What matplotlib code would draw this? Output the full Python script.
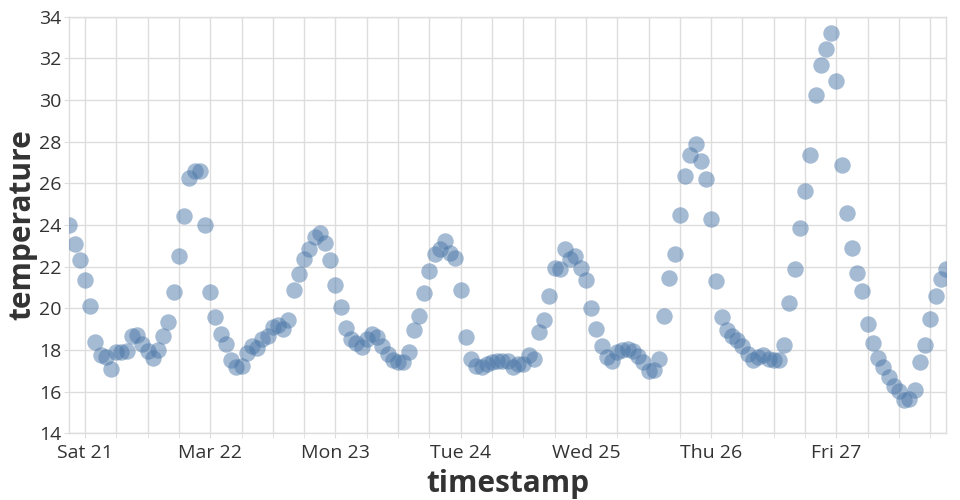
import matplotlib
matplotlib.use("Agg")
import matplotlib.pyplot as plt
import matplotlib.dates as mdates
from matplotlib.ticker import FuncFormatter
import pandas as pd

plt.rcParams['font.family'] = ['Open Sans', 'DejaVu Sans']

# hourly readings, first one at 2020-03-20 21:00
start = "2020-03-20 21:00"
temperature = [
    24.0, 23.1, 22.3, 21.35, 20.1, 18.4, 17.75, 17.65, 17.1, 17.9,
    17.9, 17.95, 18.65, 18.7, 18.3, 17.95, 17.6, 18.0, 18.65, 19.35,
    20.8, 22.5, 24.45, 26.25, 26.6, 26.6, 24.0, 20.8, 19.6, 18.75,
    18.3, 17.5, 17.2, 17.25, 17.85, 18.2, 18.1, 18.55, 18.65, 19.1,
    19.2, 19.0, 19.45, 20.9, 21.65, 22.35, 22.85, 23.4, 23.6, 23.15,
    22.3, 21.1, 20.05, 19.05, 18.55, 18.35, 18.15, 18.55, 18.75, 18.6,
    18.2, 17.8, 17.5, 17.4, 17.4, 17.9, 18.95, 19.65, 20.75, 21.8,
    22.6, 22.85, 23.25, 22.65, 22.4, 20.9, 18.6, 17.55, 17.25, 17.2,
    17.35, 17.4, 17.45, 17.45, 17.45, 17.2, 17.35, 17.35, 17.75, 17.55,
    18.85, 19.45, 20.6, 21.95, 21.9, 22.85, 22.35, 22.5, 21.95, 21.35,
    20.0, 19.0, 18.2, 17.65, 17.45, 17.9, 18.0, 18.05, 17.95, 17.7,
    17.4, 17.0, 17.05, 17.55, 19.65, 21.45, 22.6, 24.5, 26.35, 27.35,
    27.9, 27.05, 26.2, 24.3, 21.3, 19.6, 18.95, 18.65, 18.5, 18.2,
    17.8, 17.5, 17.65, 17.75, 17.55, 17.5, 17.5, 18.25, 20.25, 21.9,
    23.85, 25.65, 27.35, 30.25, 31.7, 32.45, 33.2, 30.9, 26.9, 24.6,
    22.9, 21.7, 20.85, 19.25, 18.35, 17.6, 17.2, 16.7, 16.25, 16.05,
    15.6, 15.65, 16.1, 17.4, 18.25, 19.5, 20.6, 21.4, 21.9,
]
timestamp = pd.date_range(start, periods=len(temperature), freq="h")
y_ticks = list(range(14, 35, 2))

grid_c = "#dddddd"

fig = plt.figure(figsize=(9.6, 5.0), dpi=100)
ax = fig.add_axes([0.0722, 0.1334, 0.9132, 0.8332])

ax.scatter(timestamp, temperature, s=140, color="#4c78a8", alpha=0.5,
           linewidths=0, zorder=3)

ax.set_xlim(timestamp[0], timestamp[-1])
ax.set_ylim(14, 34)
ax.set_yticks(y_ticks)


def day_label(x, pos):
    d = mdates.num2date(x)
    # week start shows month, other days show weekday
    if d.weekday() == 6:
        return d.strftime("%b %d")
    return d.strftime("%a %d")


ax.xaxis.set_major_locator(mdates.DayLocator())
ax.xaxis.set_major_formatter(FuncFormatter(day_label))
ax.xaxis.set_minor_locator(mdates.HourLocator(byhour=[6, 12, 18]))

ax.grid(True, which="both", color=grid_c, linewidth=1, zorder=0)
ax.set_axisbelow(True)
for s in ax.spines.values():
    s.set_color(grid_c)
    s.set_linewidth(1)

ax.tick_params(axis="both", which="both", length=3.6, color=grid_c,
               labelsize=14, labelcolor="#333333", pad=2)
ax.tick_params(axis="x", which="major", pad=4)
ax.tick_params(axis="x", which="minor", labelbottom=False)

ax.set_xlabel("timestamp", fontsize=21.5, fontweight="bold", color="#333333",
              labelpad=5)
ax.set_ylabel("temperature", fontsize=21.5, fontweight="bold", color="#333333",
              labelpad=1)

fig.savefig("out.png", dpi=100)
